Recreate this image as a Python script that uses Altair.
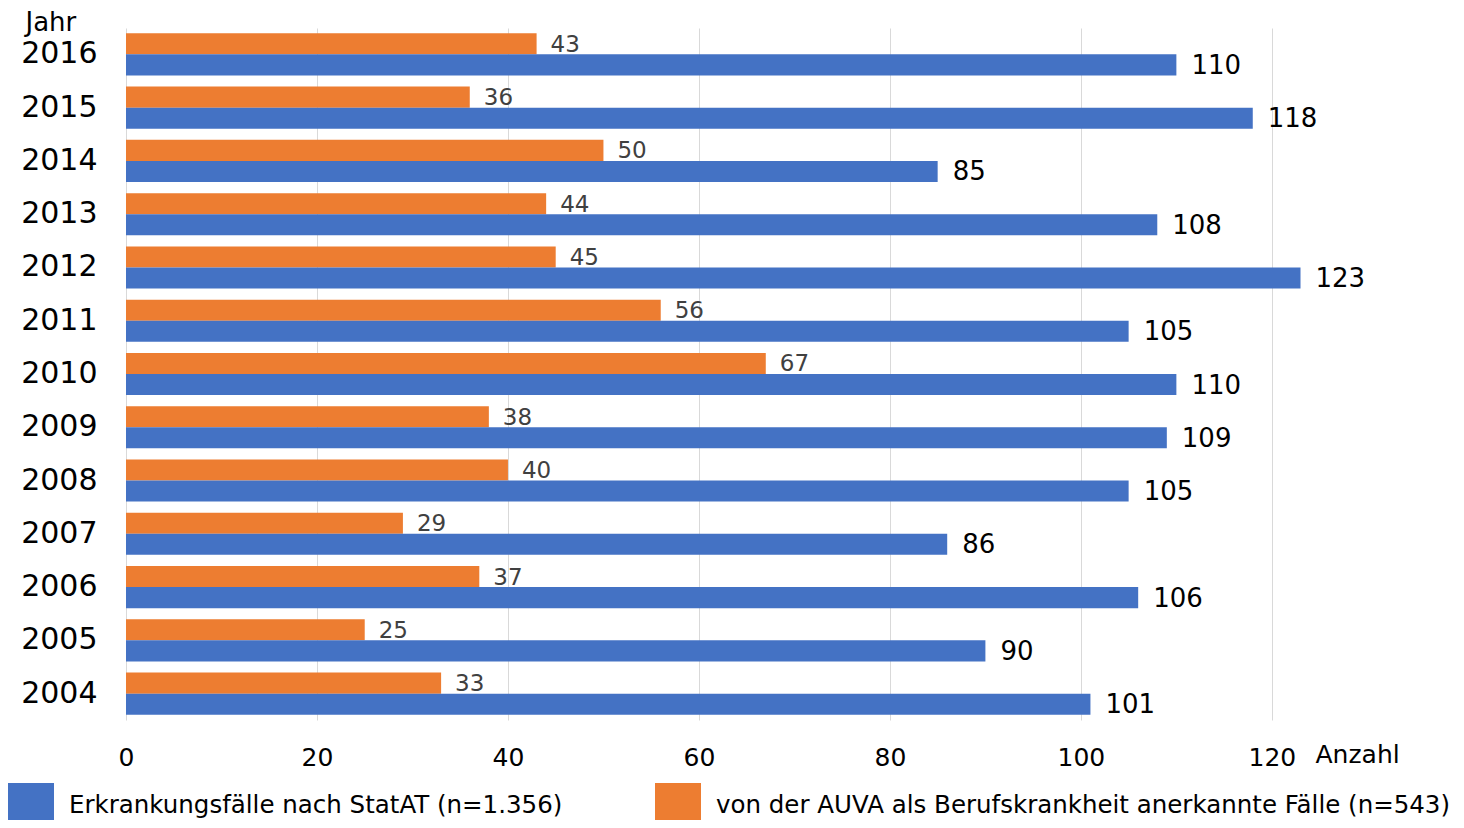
import altair as alt
import pandas as pd

years = [2016, 2015, 2014, 2013, 2012, 2011, 2010, 2009, 2008, 2007, 2006, 2005, 2004]
statat = [110, 118, 85, 108, 123, 105, 110, 109, 105, 86, 106, 90, 101]
auva = [43, 36, 50, 44, 45, 56, 67, 38, 40, 29, 37, 25, 33]

stat_name = "Erkrankungsfälle nach StatAT (n=1.356)"
auva_name = "von der AUVA als Berufskrankheit anerkannte Fälle (n=543)"
x_ticks = [0, 20, 40, 60, 80, 100, 120]

rows = []
for y, s, a in zip(years, statat, auva):
    rows.append({"Jahr": y, "Serie": auva_name, "Anzahl": a})
    rows.append({"Jahr": y, "Serie": stat_name, "Anzahl": s})
df = pd.DataFrame(rows)

FONT = "DejaVu Sans"

y_enc = alt.Y(
    "Jahr:O",
    sort="descending",
    scale=alt.Scale(paddingInner=0.21, paddingOuter=0.1),
    axis=alt.Axis(
        title="Jahr", titleAngle=0, titleAlign="left", titleBaseline="alphabetic",
        titleX=-101, titleY=2, titleFont=FONT, titleFontSize=26,
        titleFontWeight="normal", titleColor="black",
        labelFont=FONT, labelFontSize=30, labelColor="black",
        labelPadding=29, ticks=False, tickSize=0, domain=False, grid=False,
    ),
)
x_enc = alt.X(
    "Anzahl:Q",
    scale=alt.Scale(domain=[0, 133], nice=False),
    axis=alt.Axis(
        values=x_ticks, grid=True, gridColor="#d9d9d9", gridWidth=1,
        domain=False, ticks=False, tickSize=0, labelFlush=False,
        labelFont=FONT, labelFontSize=25, labelColor="black",
        labelPadding=25, labelBaseline="top",
        title="Anzahl", titleX=1189, titleY=42, titleAlign="left",
        titleBaseline="alphabetic", titleFont=FONT, titleFontSize=25,
        titleFontWeight="normal", titleColor="black",
    ),
)
yoff = alt.YOffset(
    "Serie:N",
    scale=alt.Scale(domain=[auva_name, stat_name], paddingInner=0, paddingOuter=0),
)

base = alt.Chart(df).encode(y=y_enc, yOffset=yoff)

bars = base.mark_bar(opacity=1).encode(
    x=x_enc,
    color=alt.Color(
        "Serie:N",
        scale=alt.Scale(domain=[stat_name, auva_name], range=["#4472C4", "#ED7D31"]),
        legend=alt.Legend(
            title=None, orient="none", legendX=-118, legendY=755,
            direction="horizontal", symbolType="square", symbolSize=2116,
            symbolStrokeWidth=0, symbolOpacity=1,
            labelFont=FONT, labelFontSize=24.5, labelColor="black",
            labelOffset=15, labelLimit=900, columnPadding=92, padding=0,
        ),
    ),
)

txt_stat = base.transform_filter(alt.datum.Serie == stat_name).mark_text(
    align="left", baseline="middle", dx=15, dy=1, font=FONT, fontSize=26, color="black"
).encode(x="Anzahl:Q", text="Anzahl:Q")

txt_auva = base.transform_filter(alt.datum.Serie == auva_name).mark_text(
    align="left", baseline="middle", dx=14, dy=1, font=FONT, fontSize=23, color="#404040"
).encode(x="Anzahl:Q", text="Anzahl:Q")

chart = (
    alt.layer(bars, txt_stat, txt_auva)
    .properties(
        width=1270, height=692,
        autosize=alt.AutoSizeParams(type="none"),
        padding={"left": 118, "top": 20, "right": 60, "bottom": 100},
        background="white",
    )
    .configure_view(stroke=None)
)

chart.save("out.html", embed_options={"renderer": "svg", "actions": False})
